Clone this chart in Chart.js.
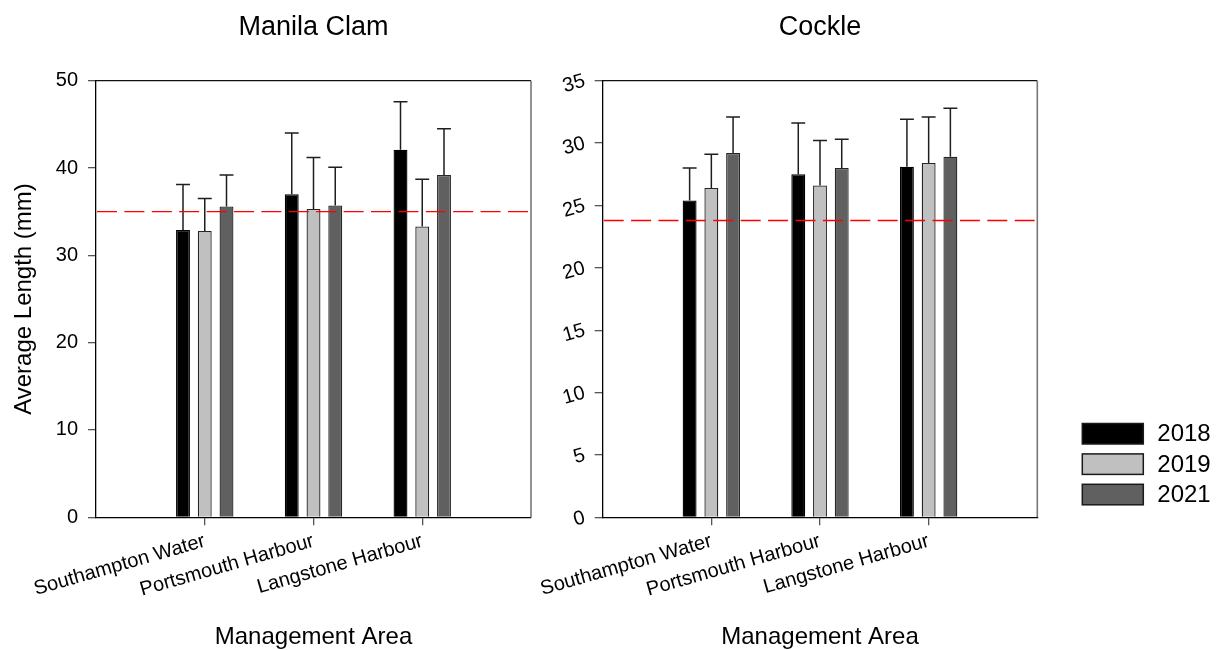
<!DOCTYPE html>
<html>
<head>
<meta charset="utf-8">
<script src="https://cdn.jsdelivr.net/npm/chart.js@4.4.1/dist/chart.umd.min.js"></script>
<style>
  html, body { margin: 0; padding: 0; background: #fff; }
  #wrap { position: relative; width: 1223px; height: 650px; overflow: hidden; background: #fff; }
  canvas { position: absolute; top: 0; }
</style>
</head>
<body>
<div id="wrap">
  <canvas id="clam" width="560" height="650" style="left:0px"></canvas>
  <canvas id="cockle" width="703" height="650" style="left:520px"></canvas>
</div>
<script>
// Management areas and survey years
const areas = ['Southampton Water', 'Portsmouth Harbour', 'Langstone Harbour'];
const years = ['2018', '2019', '2021'];

// Manila clam: mean length (mm) and upper error (mm) per area
const clamMean2018 = [32.9, 37.0, 42.1];
const clamErr2018  = [5.2, 7.0, 5.5];
const clamMean2019 = [32.8, 35.3, 33.3];
const clamErr2019  = [3.7, 5.9, 5.4];
const clamMean2021 = [35.6, 35.7, 39.2];
const clamErr2021  = [3.6, 4.4, 5.3];

// Cockle: mean length (mm) and upper error (mm) per area
const cockleMean2018 = [25.4, 27.5, 28.1];
const cockleErr2018  = [2.6, 4.1, 3.8];
const cockleMean2019 = [26.4, 26.6, 28.4];
const cockleErr2019  = [2.7, 3.6, 3.7];
const cockleMean2021 = [29.2, 28.0, 28.9];
const cockleErr2021  = [2.9, 2.3, 3.9];

// Minimum conservation reference sizes (mm)
const clamMinSize = 35;
const cockleMinSize = 23.8;

// Y-axis tick values
const clamYTicks = [0, 10, 20, 30, 40, 50];
const cockleYTicks = [0, 5, 10, 15, 20, 25, 30, 35];

const FONT = 'Liberation Sans, Arial, Helvetica, sans-serif';
Chart.defaults.font.family = FONT;
Chart.defaults.color = '#000';

const yearFill = ['#000000', '#c0c0c0', '#606060'];
const yearEdge = ['#000000', '#262626', '#262626'];

// one empty slot either side of the three areas
const xLabels = ['', ...areas, ''];
const pad = v => [null, ...v, null];

// upward error bars with caps, drawn from each bar's own geometry
const errorBars = {
  id: 'errorBars',
  afterDatasetsDraw(chart, args, opts) {
    const ctx = chart.ctx;
    const y = chart.scales.y;
    ctx.save();
    ctx.strokeStyle = '#1e1e1e';
    ctx.lineWidth = 1.5;
    chart.data.datasets.forEach((ds, di) => {
      const meta = chart.getDatasetMeta(di);
      const errs = pad(opts.errors[di]);
      meta.data.forEach((bar, i) => {
        const v = ds.data[i];
        if (v == null) return;
        const top = y.getPixelForValue(v + errs[i]);
        const half = bar.width / 2;
        ctx.beginPath();
        ctx.moveTo(bar.x, bar.y);
        ctx.lineTo(bar.x, top);
        ctx.moveTo(bar.x - half, top);
        ctx.lineTo(bar.x + half, top);
        ctx.stroke();
      });
    });
    ctx.restore();
  }
};

// dashed reference line for the minimum size
const sizeLine = {
  id: 'sizeLine',
  afterDatasetsDraw(chart, args, opts) {
    const {ctx, chartArea} = chart;
    const py = chart.scales.y.getPixelForValue(opts.value);
    ctx.save();
    ctx.strokeStyle = '#ff0000';
    ctx.lineWidth = opts.width;
    ctx.setLineDash([20, 7.4]);
    ctx.beginPath();
    ctx.moveTo(chartArea.left + 1, py);
    ctx.lineTo(chartArea.right, py);
    ctx.stroke();
    ctx.restore();
  }
};

// top and right edges of the plot frame
const frame = {
  id: 'frame',
  afterDraw(chart) {
    const {ctx, chartArea: a} = chart;
    ctx.save();
    ctx.strokeStyle = '#111';
    ctx.lineWidth = 1.2;
    ctx.beginPath();
    ctx.moveTo(a.left, a.top);
    ctx.lineTo(a.right, a.top);
    ctx.stroke();
    ctx.strokeStyle = '#777';
    ctx.lineWidth = 1.6;
    ctx.beginPath();
    ctx.moveTo(a.right, a.top);
    ctx.lineTo(a.right, a.bottom);
    ctx.stroke();
    ctx.restore();
  }
};

// year legend to the right of the cockle panel
const yearLegend = {
  id: 'yearLegend',
  afterDraw(chart, args, opts) {
    if (!opts.display) return;
    const {ctx, chartArea: a} = chart;
    ctx.save();
    ctx.font = '24px ' + FONT;
    ctx.textBaseline = 'middle';
    ctx.textAlign = 'left';
    chart.data.datasets.forEach((ds, i) => {
      const bx = a.right + 45, by = 423.5 + i * 30.4, bw = 61, bh = 20.5;
      ctx.fillStyle = ds.backgroundColor;
      ctx.fillRect(bx, by, bw, bh);
      ctx.strokeStyle = '#1a1a1a';
      ctx.lineWidth = 1.5;
      ctx.strokeRect(bx, by, bw, bh);
      ctx.fillStyle = '#000';
      ctx.fillText(ds.label, a.right + 120, by + bh / 2 + 1);
    });
    ctx.restore();
  }
};

function barSet(i, values) {
  return {
    label: years[i],
    data: pad(values),
    backgroundColor: yearFill[i],
    borderColor: yearEdge[i],
    borderWidth: 1.3,
    categoryPercentage: 0.6,
    barPercentage: 0.64
  };
}

function panel(canvasId, title, means, errs, yTicks, minSize, opts) {
  return new Chart(document.getElementById(canvasId), {
    type: 'bar',
    data: {
      labels: xLabels,
      datasets: means.map((m, i) => barSet(i, m))
    },
    options: {
      responsive: false,
      animation: false,
      events: [],
      layout: { padding: { top: 0, right: opts.padRight, bottom: 0, left: 0 } },
      plugins: {
        legend: { display: false },
        tooltip: { enabled: false },
        title: {
          display: true,
          text: title,
          fullSize: false,
          color: '#000',
          font: { size: 27, weight: 'normal', lineHeight: 1 },
          padding: { top: 13.8, bottom: 39.9 }
        },
        errorBars: { errors: errs },
        sizeLine: { value: minSize, width: opts.lineWidth },
        yearLegend: { display: opts.legend }
      },
      scales: {
        x: {
          type: 'category',
          offset: false,
          grid: {
            offset: false,
            drawOnChartArea: false,
            tickLength: 8,
            lineWidth: 1.3,
            tickColor: c => (xLabels[c.index] ? '#555' : 'rgba(0,0,0,0)')
          },
          border: { display: true, color: '#000', width: 1.3 },
          ticks: {
            autoSkip: false,
            minRotation: 16,
            maxRotation: 16,
            padding: 4,
            color: '#000',
            font: { size: 20 }
          },
          title: {
            display: true,
            text: 'Management Area',
            color: '#000',
            font: { size: 24, lineHeight: 1 },
            padding: { top: 0, bottom: 0.5 }
          },
          afterFit: s => { s.height = 132.7; }
        },
        y: {
          min: yTicks[0],
          max: yTicks[yTicks.length - 1],
          afterBuildTicks: s => { s.ticks = yTicks.map(v => ({ value: v })); },
          grid: {
            drawOnChartArea: false,
            tickLength: 8,
            lineWidth: 1.3,
            tickColor: '#555'
          },
          border: { display: true, color: '#000', width: 1.3 },
          ticks: {
            padding: 10,
            color: '#000',
            font: { size: 20 },
            minRotation: opts.yRotation,
            maxRotation: opts.yRotation
          },
          title: {
            display: opts.yTitle,
            text: 'Average Length (mm)',
            color: '#000',
            font: { size: 24, lineHeight: 1 },
            padding: { top: 12, bottom: 0 }
          },
          afterFit: s => { s.width = opts.yWidth; }
        }
      }
    },
    plugins: [frame, errorBars, sizeLine, yearLegend]
  });
}

panel('clam', 'Manila Clam',
  [clamMean2018, clamMean2019, clamMean2021],
  [clamErr2018, clamErr2019, clamErr2021],
  clamYTicks, clamMinSize,
  { padRight: 29, yWidth: 96, yTitle: true, yRotation: 0, lineWidth: 1.2, legend: false });

panel('cockle', 'Cockle',
  [cockleMean2018, cockleMean2019, cockleMean2021],
  [cockleErr2018, cockleErr2019, cockleErr2021],
  cockleYTicks, cockleMinSize,
  { padRight: 185.7, yWidth: 82.7, yTitle: false, yRotation: 16, lineWidth: 1.5, legend: true });
</script>
</body>
</html>
